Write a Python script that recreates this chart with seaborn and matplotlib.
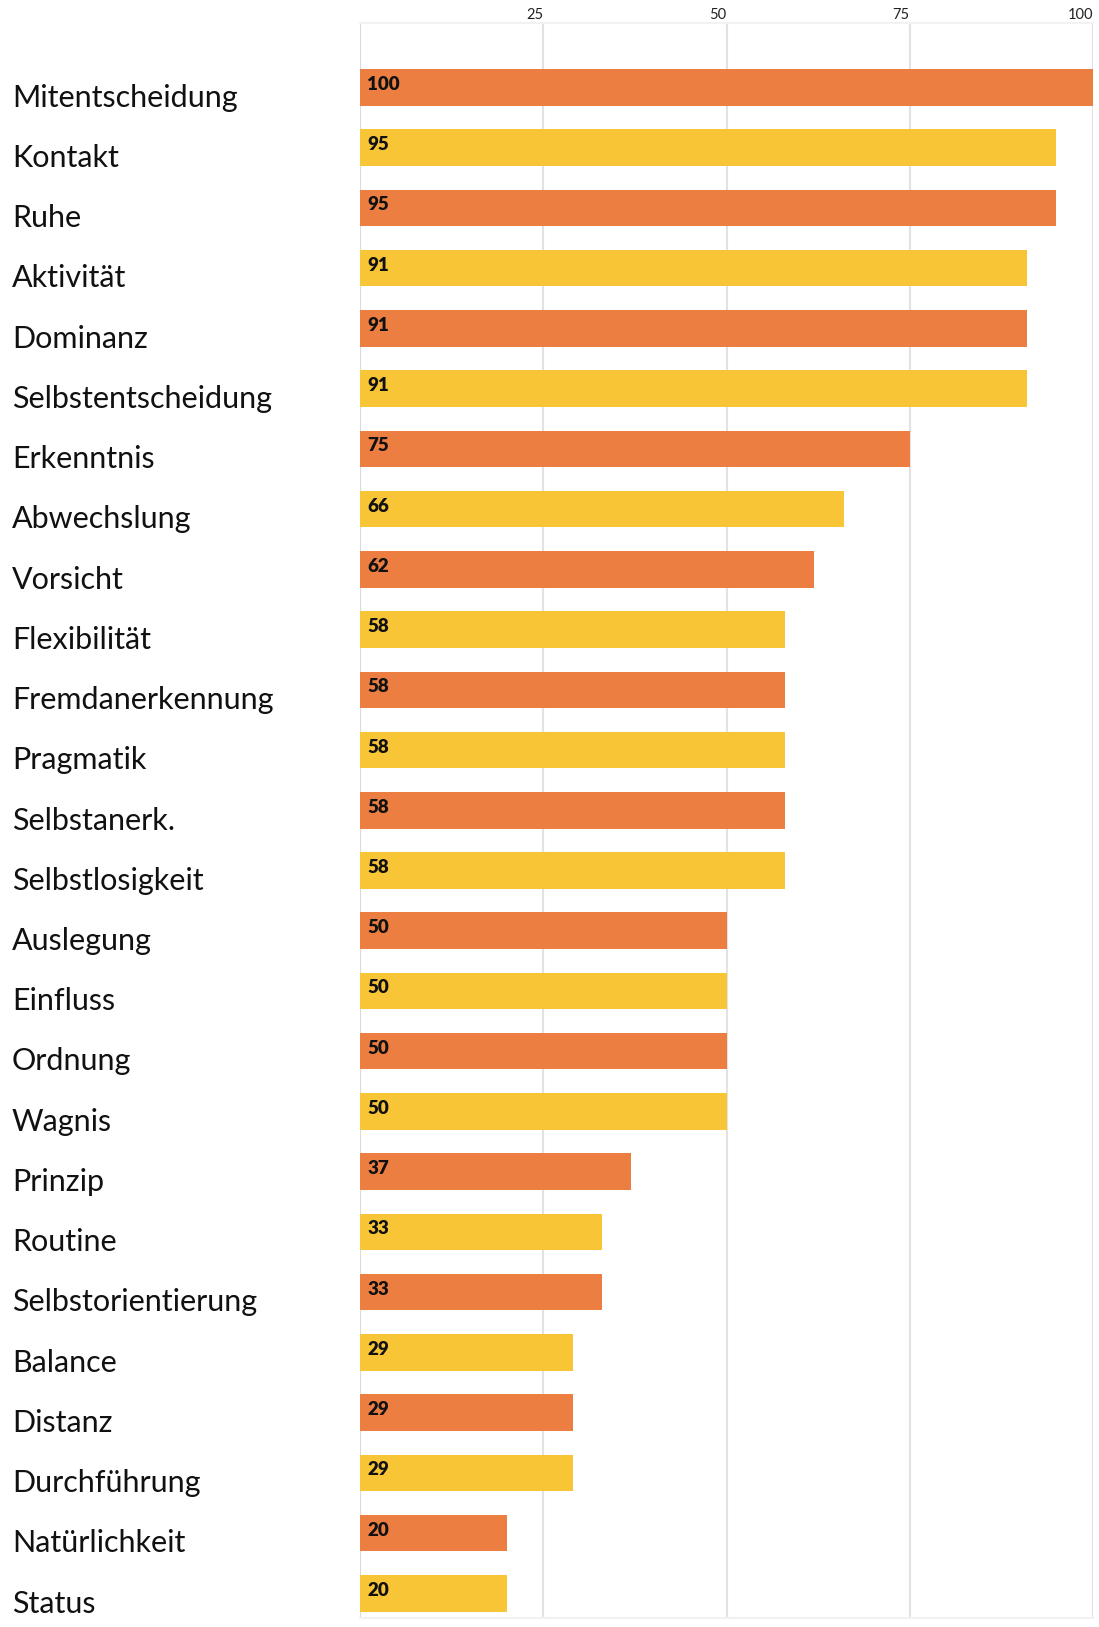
import matplotlib
matplotlib.use("Agg")
import matplotlib.pyplot as plt
import matplotlib.transforms as mtransforms
import pandas as pd
import seaborn as sns

categories = [
    "Mitentscheidung", "Kontakt", "Ruhe", "Aktivität", "Dominanz",
    "Selbstentscheidung", "Erkenntnis", "Abwechslung", "Vorsicht",
    "Flexibilität", "Fremdanerkennung", "Pragmatik", "Selbstanerk.",
    "Selbstlosigkeit", "Auslegung", "Einfluss", "Ordnung", "Wagnis",
    "Prinzip", "Routine", "Selbstorientierung", "Balance", "Distanz",
    "Durchführung", "Natürlichkeit", "Status",
]
values = [100, 95, 95, 91, 91, 91, 75, 66, 62, 58, 58, 58, 58, 58,
          50, 50, 50, 50, 37, 33, 33, 29, 29, 29, 20, 20]
x_ticks = [25, 50, 75, 100]

ORANGE = "#EC7E41"
YELLOW = "#F8C537"

df = pd.DataFrame({"name": categories, "score": values})
df["band"] = ["a" if i % 2 == 0 else "b" for i in range(len(df))]

sns.set_theme(style="white")
plt.rcParams["font.family"] = ["Lato", "DejaVu Sans"]

fig = plt.figure(figsize=(10.99, 16.27), dpi=100)
ax = fig.add_axes([360 / 1099, 1 - 1618 / 1627, 733 / 1099, 1595 / 1627])

sns.barplot(data=df, x="score", y="name", hue="band",
            palette={"a": ORANGE, "b": YELLOW}, saturation=1, dodge=False,
            width=0.606, legend=False, ax=ax, zorder=3,
            edgecolor="none", linewidth=0)

ax.set_xlim(0, 100)
ax.set_ylim(len(categories) - 1 + 0.41, -1.07)

# vertical guides
for t in x_ticks:
    ax.axvline(t, color="#E2E2E2", lw=1.5, zorder=1)
ax.axvline(0, color="#DADADA", lw=1.5, zorder=1)

for side in ["left", "right"]:
    ax.spines[side].set_visible(False)
for side in ["top", "bottom"]:
    ax.spines[side].set_color("#F2F2F2")
    ax.spines[side].set_linewidth(1.5)

ax.xaxis.tick_top()
ax.set_xticks(x_ticks)
ax.set_xticklabels([str(t) for t in x_ticks], fontsize=10.5, color="#222222")
for lbl in ax.get_xticklabels():
    lbl.set_horizontalalignment("right")
    lbl.set_transform(lbl.get_transform() +
                      mtransforms.ScaledTranslation(3 / 100, 0, fig.dpi_scale_trans))
ax.tick_params(axis="x", length=0, pad=1)
ax.set_yticks([])
ax.set_xlabel("")
ax.set_ylabel("")

# category names on the far left
name_tf = mtransforms.blended_transform_factory(fig.transFigure, ax.transData)
for i, name in enumerate(categories):
    ax.text(12 / 1099, i + 0.32, name, transform=name_tf, ha="left",
            va="baseline", fontsize=22, fontweight="normal",
            color="#111111", clip_on=False)

# value labels inside the bars
for i, v in enumerate(values):
    ax.text(1.0, i - 0.05, str(v), ha="left", va="center",
            fontsize=13.5, fontweight="heavy", color="#111111", zorder=4)

fig.savefig("out.png", dpi=100, facecolor="white")
